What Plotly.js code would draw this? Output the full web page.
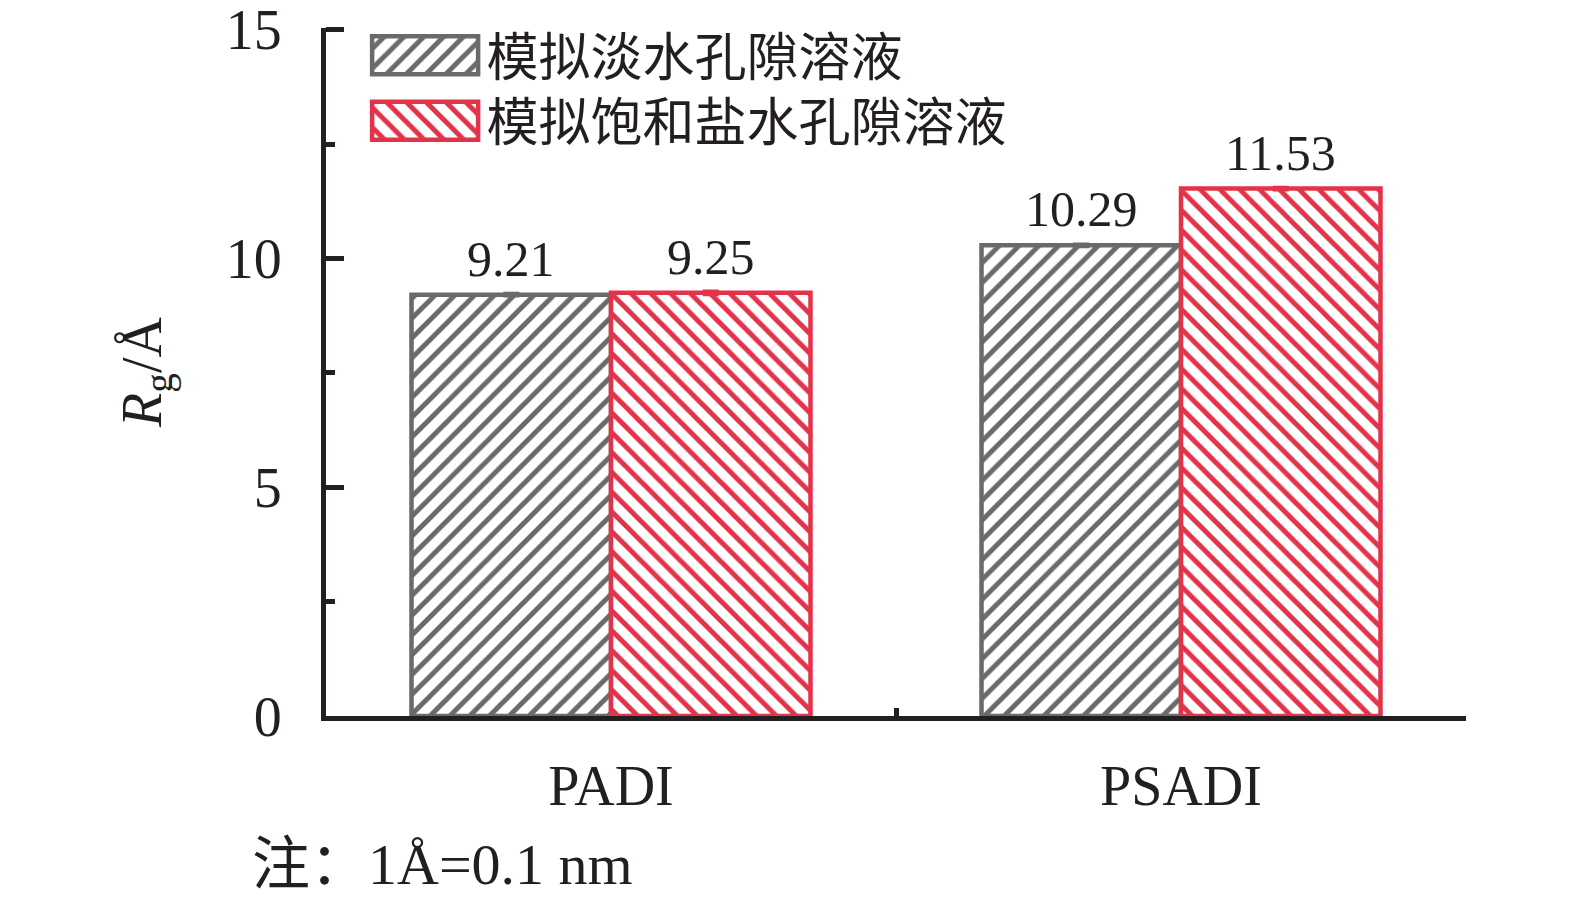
<!DOCTYPE html>
<html>
<head>
<meta charset="utf-8">
<script src="https://cdn.plot.ly/plotly-3.0.1.min.js"></script>
<style>
html,body{margin:0;padding:0;background:#fff;}
#chart{width:1575px;height:900px;}
</style>
</head>
<body>
<div id="chart"></div>
<script>
// ---- data ----
const categories = ['PADI', 'PSADI'];
const seriesNames = ['模拟淡水孔隙溶液', '模拟饱和盐水孔隙溶液'];
const freshValues = [9.21, 10.29];
const brineValues = [9.25, 11.53];
const freshErr = [0.03, 0.03];
const brineErr = [0.04, 0.03];
const yTickVals = [0, 5, 10, 15];
const yTickText = ['0', '5', '10', '15'];
const yMinorVals = [2.5, 7.5, 12.5];
const yTitle = '<i>R</i><sub>g</sub>/Å';
const noteText = '注：1Å=0.1 nm';

// ---- styles ----
const SERIF = '"Liberation Serif", "Times New Roman", "Noto Sans CJK SC", serif';
const INK = '#231f20';
const GRAY = '#6a6a6a';
const RED = '#e3334a';

const traces = [
  {
    type: 'bar', name: seriesNames[0], x: categories, y: freshValues,
    marker: {
      color: 'white',
      line: {color: GRAY, width: 4.5},
      pattern: {shape: '/', fgcolor: GRAY, bgcolor: 'white', size: 14, solidity: 0.36, fillmode: 'replace'}
    },
    error_y: {type: 'data', array: freshErr, color: GRAY, thickness: 3, width: 8},
    hoverinfo: 'none'
  },
  {
    type: 'bar', name: seriesNames[1], x: categories, y: brineValues,
    marker: {
      color: 'white',
      line: {color: RED, width: 4.5},
      pattern: {shape: '\\', fgcolor: RED, bgcolor: 'white', size: 14, solidity: 0.36, fillmode: 'replace'}
    },
    error_y: {type: 'data', array: brineErr, color: RED, thickness: 3, width: 8},
    hoverinfo: 'none'
  }
];

// value labels above bars (positions from data)
const groupOffset = 0.175;
const annotations = [];
[freshValues, brineValues].forEach(function (vals, s) {
  vals.forEach(function (v, i) {
    annotations.push({
      x: i + (s === 0 ? -groupOffset : groupOffset), y: v, xref: 'x', yref: 'y',
      text: v.toFixed(2), showarrow: false, yanchor: 'middle', yshift: 36,
      font: {family: SERIF, size: 50, color: INK}
    });
  });
});
annotations.push({
  x: 0, y: 0, xref: 'paper', yref: 'paper', xanchor: 'left', yanchor: 'middle',
  xshift: -76, yshift: -148,
  text: noteText, showarrow: false, font: {family: SERIF, size: 58, color: INK}
});

const layout = {
  width: 1575, height: 900,
  margin: {l: 326, r: 109, t: 28, b: 184, pad: 0},
  paper_bgcolor: 'white', plot_bgcolor: 'white',
  barmode: 'group', bargap: 0.3, bargroupgap: 0,
  showlegend: true,
  legend: {
    x: 0.033, y: 1.019, xanchor: 'left', yanchor: 'top',
    font: {family: SERIF, size: 52, color: INK},
    itemwidth: 113, bgcolor: 'rgba(0,0,0,0)', tracegroupgap: 0
  },
  xaxis: {
    type: 'category', range: [-0.5, 1.5],
    showline: true, linecolor: INK, linewidth: 5,
    ticks: 'inside', tickson: 'boundaries', ticklen: 8, tickwidth: 5, tickcolor: INK,
    tickfont: {family: SERIF, size: 56, color: INK},
    ticklabelstandoff: 17, ticklabeloverflow: 'allow',
    showgrid: false, zeroline: false
  },
  yaxis: {
    range: [0, 15.04], tickvals: yTickVals, ticktext: yTickText,
    showline: true, linecolor: INK, linewidth: 5,
    ticks: 'inside', ticklen: 18, tickwidth: 5, tickcolor: INK,
    minor: {tickvals: yMinorVals, ticks: 'inside', ticklen: 9, tickwidth: 5, tickcolor: INK, showgrid: false},
    tickfont: {family: SERIF, size: 56, color: INK},
    ticklabelstandoff: 28, ticklabeloverflow: 'allow',
    showgrid: false, zeroline: false,
    title: {text: yTitle, font: {family: SERIF, size: 56, color: INK}, standoff: 48}
  },
  annotations: annotations
};

function fixLegend() {
  const W = 106, H = 38;
  const barTraces = document.querySelectorAll('#chart .barlayer .trace');
  document.querySelectorAll('#chart .legend .traces').forEach(function (g, i) {
    const p = g.querySelector('.legendpoints path');
    if (p) {
      p.setAttribute('d', 'M' + (W / 2) + ',' + (H / 2) + 'H' + (-W / 2) + 'V' + (-H / 2) + 'H' + (W / 2) + 'Z');
      const src = barTraces[i] ? barTraces[i].querySelector('.point path') : null;
      if (src && src.style.fill) p.style.fill = src.style.fill;
    }
    if (g.dataset.shifted) return;
    const t = g.getAttribute('transform') || '';
    const m = t.match(/translate\(\s*([-\d.e]+)[ ,]+([-\d.e]+)\s*\)/);
    if (m) {
      g.setAttribute('transform', 'translate(' + m[1] + ',' + (parseFloat(m[2]) - 5 * i) + ')');
      g.dataset.shifted = '1';
    }
  });
}

Plotly.newPlot('chart', traces, layout, {staticPlot: true, displayModeBar: false}).then(function (gd) {
  fixLegend();
  gd.on('plotly_afterplot', fixLegend);
});
</script>
</body>
</html>
